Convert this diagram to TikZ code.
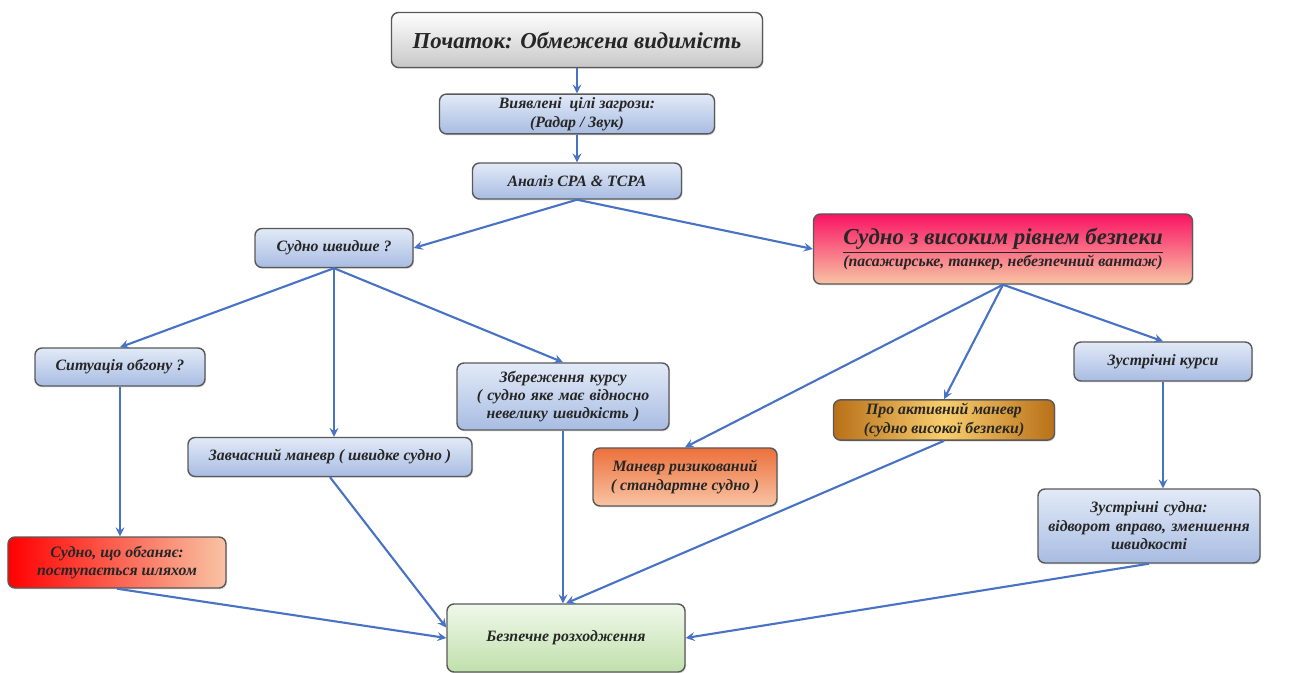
\documentclass[tikz,border=0pt]{standalone}
\usepackage{fontspec}
\setmainfont{Liberation Serif}
\usepackage{tikz}
\usetikzlibrary{shapes.geometric, arrows, shadows}
\definecolor{arrowblue}{RGB}{72,114,196}
\definecolor{boxtop}{RGB}{226,234,247}
\definecolor{boxbot}{RGB}{168,188,226}
\definecolor{peach}{RGB}{248,196,164}
\definecolor{hotpink}{RGB}{250,20,100}
\definecolor{riskorange}{RGB}{236,112,60}
\definecolor{goldedge}{RGB}{184,112,24}
\definecolor{goldmid}{RGB}{248,206,110}
\definecolor{greentop}{RGB}{240,248,234}
\definecolor{greenbot}{RGB}{192,224,172}
\tikzstyle{box} = [rectangle, rounded corners=4pt, align=center, draw=black!65, line width=0.8pt, inner sep=2pt, text=black!85, font=\fontsize{9}{10.5}\selectfont\bfseries\itshape, drop shadow={opacity=0.25, shadow xshift=0.6pt, shadow yshift=-0.8pt}]
\tikzstyle{bluebox} = [box, top color=boxtop, bottom color=boxbot]
\tikzstyle{arrow} = [line width=1.2pt, draw=arrowblue, ->, >=stealth]

\begin{document}
\begin{tikzpicture}[node distance=1cm]
    \useasboundingbox (0,0) rectangle (25.86,-13.46);
    \node (start) [box, top color=white, bottom color=black!22, minimum width=7.42cm, minimum height=1.1cm, font=\fontsize{13}{15}\selectfont\bfseries\itshape] at (11.54,-0.80) {Початок: Обмежена видимість};
    \node (targets) [bluebox, minimum width=5.5cm, minimum height=0.76cm, below of=start, yshift=-0.48cm] {Виявлені \ цілі загрози:\\(Радар / Звук)};
    \node (cpa) [bluebox, minimum width=4.18cm, minimum height=0.72cm, below of=targets, yshift=-0.34cm] {Аналіз CPA \& TCPA};
    \node (faster) [bluebox, minimum width=3.16cm, minimum height=0.78cm, below of=cpa, xshift=-4.86cm, yshift=-0.34cm] {Судно швидше ?};
    \node (highsafe) [box, top color=hotpink, bottom color=peach, minimum width=7.58cm, minimum height=1.4cm, below of=cpa, xshift=8.52cm, yshift=-0.36cm] {{\fontsize{13}{15}\selectfont\underline{Судно з високим рівнем безпеки}}\\(пасажирське, танкер, небезпечний вантаж)};
    \node (overtake) [bluebox, minimum width=3.4cm, minimum height=0.76cm, below of=faster, xshift=-4.28cm, yshift=-1.38cm] {Ситуація обгону ?};
    \node (early) [bluebox, minimum width=5.68cm, minimum height=0.78cm, below of=faster, xshift=-0.08cm, yshift=-3.18cm] {Завчасний маневр ( швидке судно )};
    \node (keep) [bluebox, text width=4.1cm, minimum height=1.34cm, below of=faster, xshift=4.58cm, yshift=-1.97cm] {Збереження курсу\\( судно яке має відносно\\невелику швидкість )};
    \node (risky) [box, top color=riskorange, bottom color=peach, minimum width=3.68cm, minimum height=1.16cm, below of=highsafe, xshift=-6.36cm, yshift=-3.56cm] {Маневр ризикований\\( стандартне судно )};
    \node (active) [box, left color=goldedge, right color=goldedge, middle color=goldmid, minimum width=4.42cm, minimum height=0.8cm, below of=highsafe, xshift=-1.18cm, yshift=-2.42cm] {Про активний маневр\\(судно високої безпеки)};
    \node (headon) [bluebox, minimum width=3.56cm, minimum height=0.78cm, below of=highsafe, xshift=3.2cm, yshift=-1.25cm] {Зустрічні курси};
    \node (vessels) [bluebox, text width=4.3cm, minimum height=1.48cm, below of=headon, xshift=-0.28cm, yshift=-2.29cm] {Зустрічні судна:\\відворот вправо, зменшення\\швидкості};
    \node (giveway) [box, shading angle=-60, left color=red, right color=peach, minimum width=4.36cm, minimum height=1.02cm, below of=overtake, xshift=-0.06cm, yshift=-2.91cm] {Судно, що обганяє:\\поступається шляхом};
    \node (safe) [box, top color=greentop, bottom color=greenbot, minimum width=4.76cm, minimum height=1.36cm, at={(11.32,-12.76)}] {Безпечне розходження};

    \draw [arrow] (start) -- (targets);
    \draw [arrow] (targets) -- (cpa);
    \draw [arrow] (cpa.south) -- (faster.east);
    \draw [arrow] (cpa.south) -- (highsafe.west);
    \draw [arrow] (faster.south) -- (overtake.north);
    \draw [arrow] (faster.south) -- (faster.south |- early.north);
    \draw [arrow] (faster.south) -- (keep.north);
    \draw [arrow] (highsafe.south) -- (risky.north);
    \draw [arrow] (highsafe.south) -- (active.north);
    \draw [arrow] (highsafe.south) -- (headon.north);
    \draw [arrow] (overtake.south) -- (overtake.south |- giveway.north);
    \draw [arrow] (headon.south) -- (headon.south |- vessels.north);
    \draw [arrow] (giveway.south) -- (safe.west);
    \draw [arrow] (early.south) -- (safe.175);
    \draw [arrow] (keep.south) -- (keep.south |- safe.north);
    \draw [arrow] (active.south) -- (safe.north);
    \draw [arrow] (vessels.south) -- (safe.east);
\end{tikzpicture}
\end{document}
